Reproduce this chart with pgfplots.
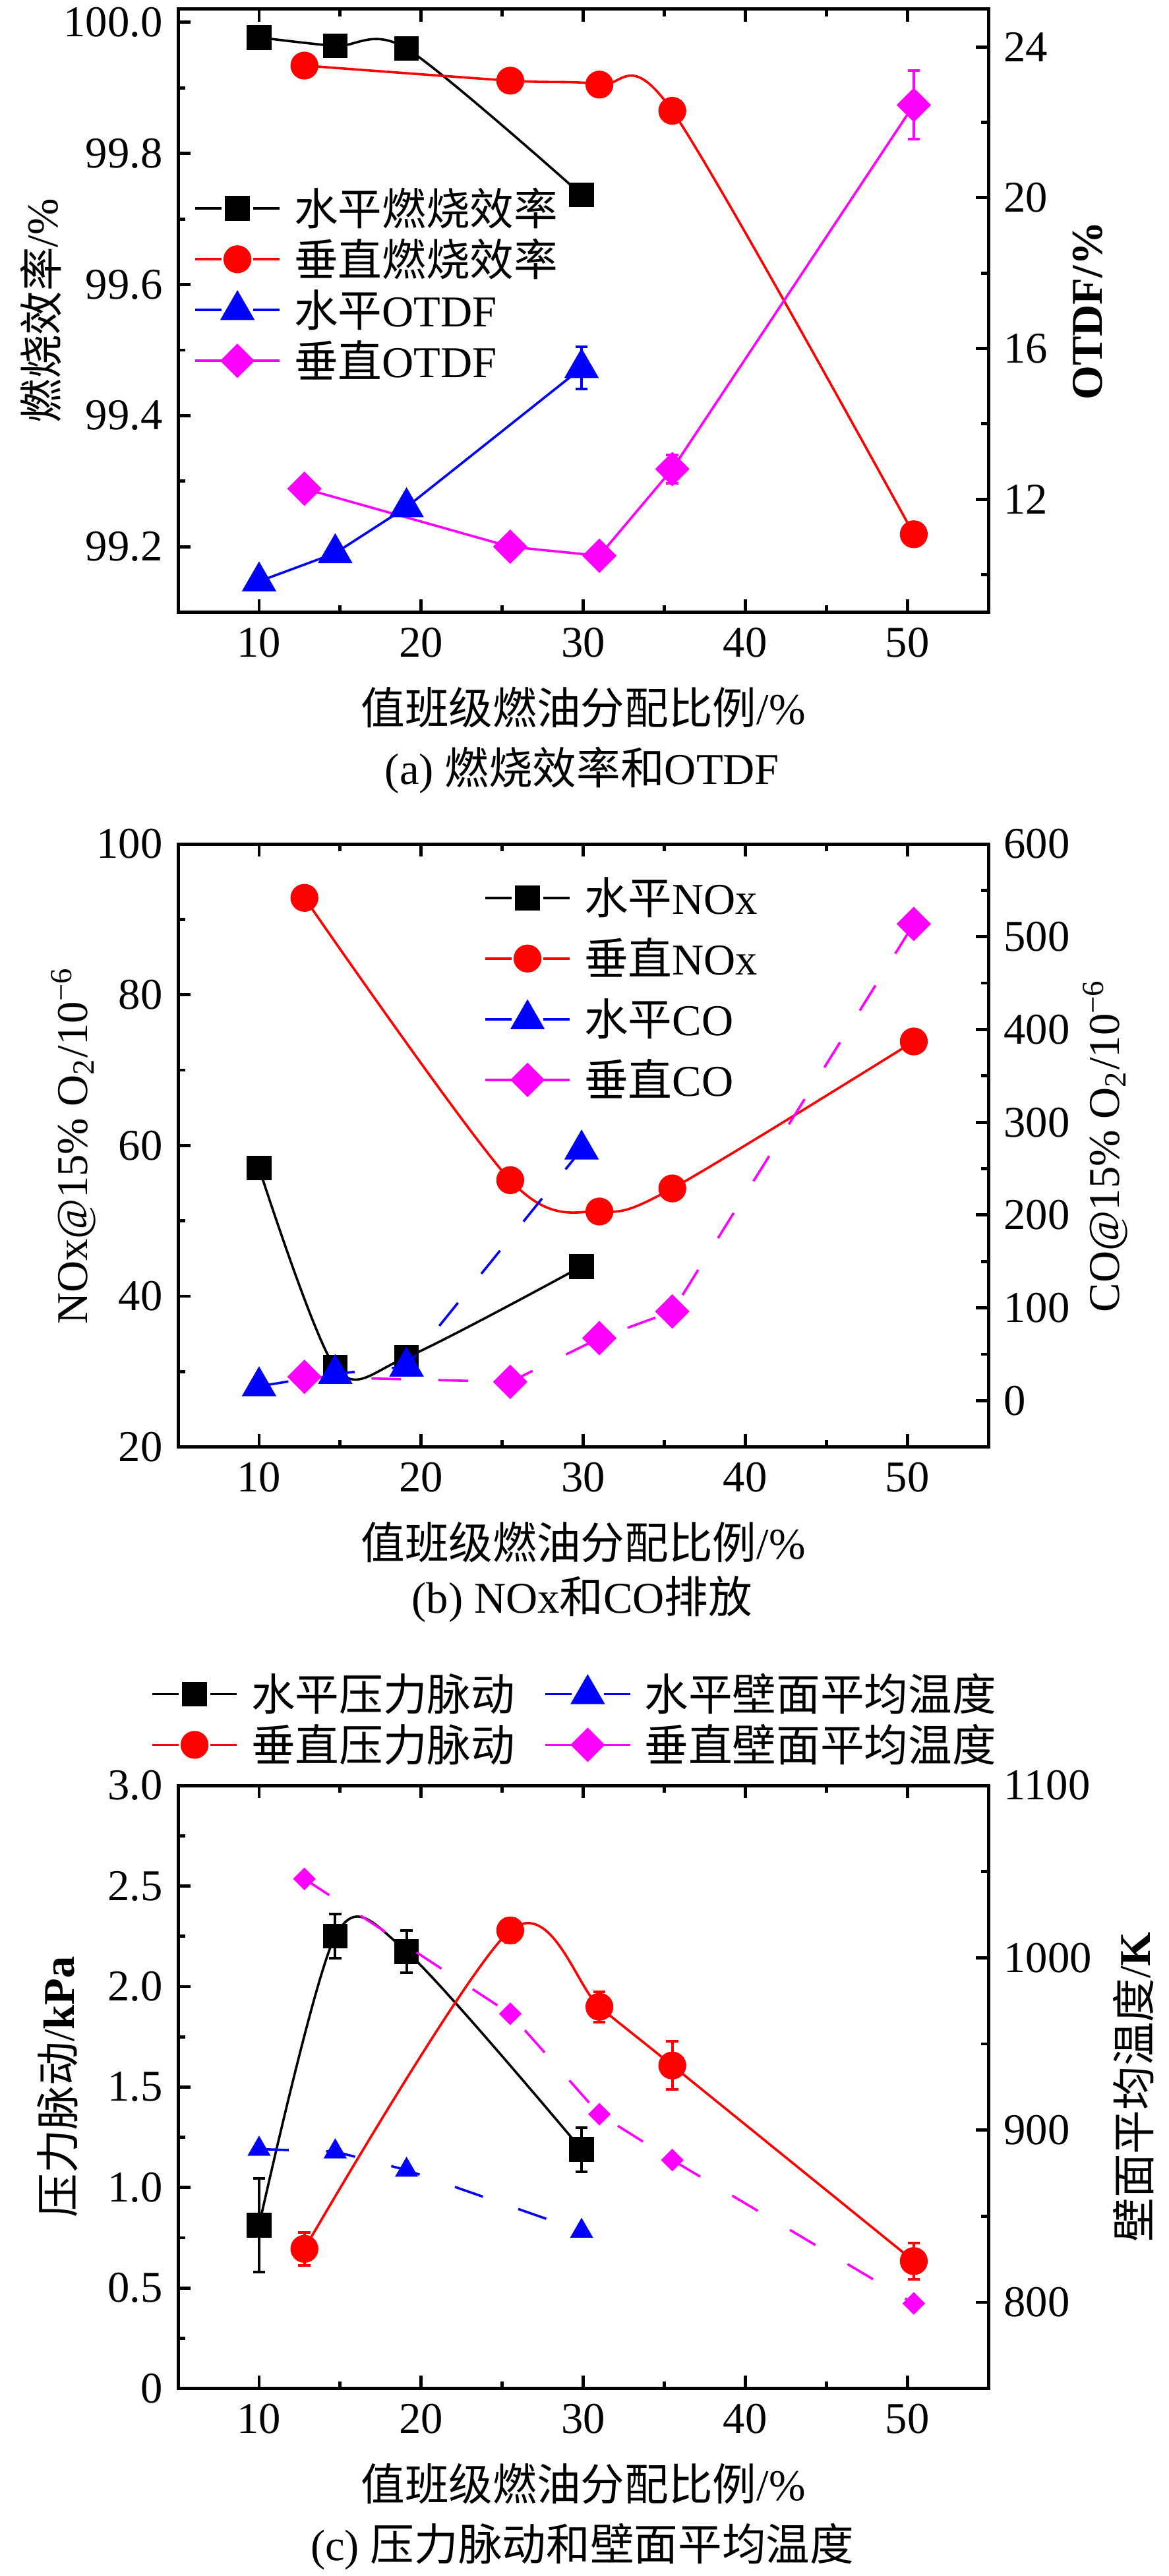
\documentclass[border=0pt]{standalone}
\usepackage{pgfplots}
\usepackage{pgfplotstable}
\pgfplotsset{compat=1.18}
\usepackage{fontspec}
\setmainfont{Liberation Serif}
\newfontfamily\cjk{Noto Sans CJK SC}
\definecolor{mred}{RGB}{255,0,0}
\definecolor{mblue}{RGB}{0,0,255}
\definecolor{mmag}{RGB}{255,0,255}

% ---------- data (a) ----------
\pgfplotstableread{
x y
10 99.977
14.7 99.964
19.1 99.960
29.9 99.737
}\aBlack
\pgfplotstableread{
x y
12.8 99.934
25.5 99.911
31.0 99.905
35.5 99.865
50.4 99.219
}\aRed
\pgfplotstableread{
x y e
10 9.82 0
14.7 10.57 0
19.1 11.79 0
29.9 15.48 0.56
}\aBlue
\pgfplotstableread{
x y e
12.8 12.28 0
25.5 10.74 0
31.0 10.50 0
35.5 12.80 0.38
50.4 22.46 0.91
}\aMag
% ---------- data (b) ----------
\pgfplotstableread{
x y
10 57.0
14.7 30.55
19.1 31.9
29.9 43.95
}\bBlack
\pgfplotstableread{
x y e
12.8 92.85 0
25.5 55.4 1.5
31.0 51.24 0
35.5 54.3 0
50.4 73.8 0
}\bRed
\pgfplotstableread{
x y e
10 15.5 0
14.7 28.8 0
19.1 36.7 0
29.9 270.7 8
}\bBlue
\pgfplotstableread{
x y
12.8 25.7
25.5 20.2
31.0 67.4
35.5 96.1
50.4 513.8
}\bMag
% ---------- data (c) ----------
\pgfplotstableread{
x y e
10 0.812 0.233
14.7 2.250 0.110
19.1 2.174 0.106
29.9 1.189 0.110
}\cBlack
\pgfplotstableread{
x y e
12.8 0.695 0.082
25.5 2.279 0.060
31.0 1.899 0.075
35.5 1.607 0.120
50.4 0.634 0.090
}\cRed
\pgfplotstableread{
x y
10 889.0
14.7 887.5
19.1 876.8
29.9 841.4
}\cBlue
\pgfplotstableread{
x y
12.8 1045.8
25.5 967.5
31.0 909.2
35.5 882.6
50.4 799.4
}\cMag

\pgfplotsset{
  base/.style={
    scale only axis, width=184.35pt, height=137.2pt,
    xmin=5, xmax=55, anchor=north west,
    tick align=inside,
    major tick length=2.9pt, minor tick length=1.6pt,
    every tick/.style={black, line width=0.72pt},
    axis line style={line width=0.75pt},
    scaled y ticks=false,
    /pgf/number format/assume math mode=true,
    /pgf/number format/1000 sep={},
    xticklabel={\pgfmathprintnumber[assume math mode=true]{\tick}},
    yticklabel={\pgfmathprintnumber[assume math mode=true,1000 sep={}]{\tick}},
    legend cell align=left,
    legend image code/.code={%
      \draw[##1] (0pt,0pt) -- (6pt,0pt);
      \draw[##1] (13.3pt,0pt) -- (19.3pt,0pt);
      \draw[##1] plot coordinates {(9.65pt,0pt)};},
    legend style={draw=none, fill=none, inner sep=0pt, outer sep=0pt, anchor=north west,
       nodes={inner sep=0pt, text height=8.75pt, text depth=1.25pt, anchor=west},
       column sep=3pt},
  },
  leftax/.style={base, xtick={10,20,30,40,50}, minor xtick={15,25,35,45}, xtick pos=both, ytick pos=left,
     xlabel={{\cjk 值班级燃油分配比例}/\%},
     xlabel style={at={(axis description cs:0.5,0)}, anchor=center, yshift=-21.6pt}},
  rightax/.style={base, axis x line=none, axis y line*=right, ytick pos=right},
  sol/.style={line width=0.54pt, solid},
  dsh/.style={line width=0.54pt, dash pattern=on 6.75pt off 8.5pt},
  sqB/.style={black, mark=square*, mark size=2.55pt, mark options={solid, fill=black, draw=black}},
  ciR/.style={mred, mark=*, mark size=2.9pt, mark options={solid, fill=mred, draw=mred}},
  trB/.style={mblue, mark=triangle*, mark size=#1, mark options={solid, fill=mblue, draw=mblue}},
  diM/.style={mmag, mark=square*, mark size=#1, mark options={solid, fill=mmag, draw=mmag, rotate=45}},
  eb/.style={error bars/y dir=both, error bars/y explicit,
     error bars/error bar style={line width=0.6pt, solid},
     error bars/error mark options={rotate=90, mark size=1.4pt, line width=0.6pt, solid}},
}

\begin{document}
\begin{tikzpicture}
\path[use as bounding box] (0,0) rectangle (265.8pt,-586.05pt);

% ================= (a) =================
\begin{axis}[leftax, at={(40.5pt,-2.1pt)},
  ymin=99.1, ymax=100.02, ytick={99.2,99.4,99.6,99.8,100}, minor ytick={99.3,99.5,99.7,99.9},
  yticklabel={\pgfmathprintnumber[fixed,fixed zerofill,precision=1,assume math mode=true]{\tick}},
  ylabel={{\cjk 燃烧效率}/\%},
  ylabel style={at={(axis description cs:-0.169,0.5)}, anchor=center}]
\addplot[sol, sqB, smooth] table[x=x,y=y] {\aBlack};
\addplot[sol, ciR, smooth] table[x=x,y=y] {\aRed};
\end{axis}
\begin{axis}[rightax, at={(40.5pt,-2.1pt)},
  ymin=9, ymax=25, ytick={12,16,20,24}, minor ytick={10,14,18,22},
  ylabel={\textbf{OTDF/\%}},
  ylabel style={at={(axis description cs:1.123,0.5)}, anchor=center},
  legend style={at={(0.0195,0.706)}, row sep=1.55pt}]
\addlegendimage{sol, sqB}
\addlegendentry{{\cjk 水平燃烧效率}}
\addlegendimage{sol, ciR}
\addlegendentry{{\cjk 垂直燃烧效率}}
\addplot[sol, trB=4pt, eb] table[x=x,y=y,y error=e] {\aBlue};
\addlegendentry{{\cjk 水平}OTDF}
\addplot[sol, diM=2.5pt, eb] table[x=x,y=y,y error=e] {\aMag};
\addlegendentry{{\cjk 垂直}OTDF}
\end{axis}
\node at (132.45pt,-175.2pt) {(a) {\cjk 燃烧效率和}OTDF};

% ================= (b) =================
\begin{axis}[leftax, at={(40.5pt,-192pt)},
  ymin=20, ymax=100, ytick={20,40,60,80,100}, minor ytick={30,50,70,90},
  ylabel={NOx@15\% O\textsubscript{2}/10\textsuperscript{−6}},
  ylabel style={at={(axis description cs:-0.129,0.5)}, anchor=center}]
\addplot[sol, sqB, smooth] table[x=x,y=y] {\bBlack};
\addplot[sol, ciR, smooth, eb] table[x=x,y=y,y error=e] {\bRed};
\end{axis}
\begin{axis}[rightax, at={(40.5pt,-192pt)},
  ymin=-50, ymax=600, ytick={0,100,200,300,400,500,600}, minor ytick={50,150,250,350,450,550},
  ylabel={CO@15\% O\textsubscript{2}/10\textsuperscript{−6}},
  ylabel style={at={(axis description cs:1.144,0.5)}, anchor=center},
  legend style={at={(0.3775,0.947)}, row sep=3.8pt}]
\addlegendimage{sol, sqB}
\addlegendentry{{\cjk 水平}NOx}
\addlegendimage{sol, ciR}
\addlegendentry{{\cjk 垂直}NOx}
\addplot[dsh, trB=4pt, eb] table[x=x,y=y,y error=e] {\bBlue};
\addlegendentry{{\cjk 水平}CO}
\addplot[dsh, diM=2.5pt] table[x=x,y=y] {\bMag};
\addlegendentry{{\cjk 垂直}CO}
\end{axis}
\node at (132.45pt,-363.75pt) {(b) NOx{\cjk 和}CO{\cjk 排放}};

% ================= (c) =================
\begin{axis}[leftax, at={(40.5pt,-406.2pt)},
  ymin=0, ymax=3, ytick={0,0.5,1,1.5,2,2.5,3}, yticklabels={0,0.5,1.0,1.5,2.0,2.5,3.0},
  minor ytick={0.25,0.75,1.25,1.75,2.25,2.75},
  ylabel={{\cjk 压力脉动}/\textbf{kPa}},
  ylabel style={at={(axis description cs:-0.149,0.5)}, anchor=center}]
\addplot[sol, sqB, smooth, eb] table[x=x,y=y,y error=e] {\cBlack};
\addplot[sol, ciR, smooth, eb] table[x=x,y=y,y error=e] {\cRed};
\end{axis}
\begin{axis}[rightax, at={(40.5pt,-406.2pt)},
  ymin=750, ymax=1100, ytick={800,900,1000,1100}, minor ytick={850,950,1050},
  ylabel={{\cjk 壁面平均温度}/\textbf{K}},
  ylabel style={at={(axis description cs:1.179,0.5)}, anchor=center},
  legend columns=2,
  legend style={at={(-0.0334,1.188)}, row sep=1.55pt, /tikz/every even column/.append style={column sep=6.6pt}}]
\addlegendimage{sol, sqB}
\addlegendentry{{\cjk 水平压力脉动}}
\addplot[dsh, trB=2.5pt, legend image post style={mark size=4pt}] table[x=x,y=y] {\cBlue};
\addlegendentry{{\cjk 水平壁面平均温度}}
\addlegendimage{sol, ciR}
\addlegendentry{{\cjk 垂直压力脉动}}
\addplot[dsh, diM=1.55pt, legend image post style={mark size=2.5pt}] table[x=x,y=y] {\cMag};
\addlegendentry{{\cjk 垂直壁面平均温度}}
\end{axis}
\node at (132.45pt,-579.3pt) {(c) {\cjk 压力脉动和壁面平均温度}};
\end{tikzpicture}
\end{document}
